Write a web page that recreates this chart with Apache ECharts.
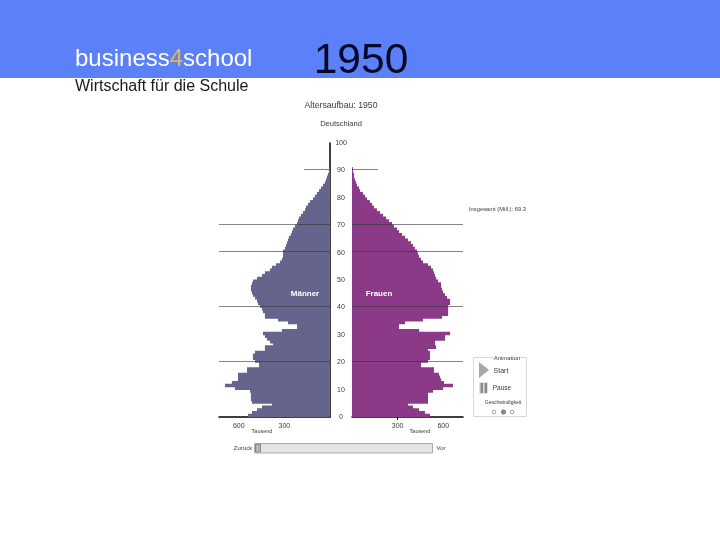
<!DOCTYPE html>
<html><head><meta charset="utf-8">
<style>html,body{margin:0;padding:0;background:#fff}#c{width:720px;height:540px}</style>
<script src="https://cdn.jsdelivr.net/npm/echarts@6/dist/echarts.min.js"></script>
</head><body><div id="c"></div>
<script>
// Bar lengths, ages 0..90, in pixel-derived thousands
var pxPerThousand = 0.152;
var ages = []; for (var a = 0; a < 100; a++) ages.push(String(a));
var menRaw = [82,78,73,68,58,78,79,79,79,80,95,105,98,92,92,92,83,83,71,71,75,77,77,75,65,65,57,60,63,65,67,48,33,33,42,52,65,65,67,68,70,72,73,75,77,78,79,79,78,77,73,68,65,60,58,54,50,48,47,47,47,45,44,43,42,41,39,38,37,35,33,32,31,29,27,25,24,22,20,17,15,13,11,9,7,5,4,3,2,1,1];
var womenRaw = [78,73,67,61,56,76,76,76,76,81,91,101,92,89,88,87,82,82,69,69,76,78,78,78,76,84,83,83,93,93,98,67,47,47,53,71,90,96,96,96,96,98,98,95,93,91,90,89,89,86,84,83,82,81,79,76,71,69,67,66,65,63,61,59,56,53,50,47,45,42,40,37,34,31,28,25,22,20,18,15,13,11,8,7,5,4,3,2,2,1,1];
var men = menRaw.map(function(v){return Math.round(v/pxPerThousand);});
var women = womenRaw.map(function(v){return Math.round(v/pxPerThousand);});
var ageTicks = [0,10,20,30,40,50,60,70,80,90,100];
var fullLines = [70,60,40,20];
var shortLine = 90;
var shortLineEnd = 170;
var axisMax = 730;
var xTicks = [300,600];

var chart = echarts.init(document.getElementById('c'), null, {renderer:'canvas'});
var F = 'Liberation Sans, Arial, sans-serif';
var TXT = '#3a3a3a';
var lineStyle = {color:'rgba(50,50,50,0.6)', width:1, type:'solid'};
function marks(){
  var d = fullLines.map(function(y){return {yAxis:String(y)};});
  d.push([{coord:[0,String(shortLine)]},{coord:[shortLineEnd,String(shortLine)]}]);
  return {silent:true, symbol:'none', label:{show:false}, lineStyle:lineStyle, data:d, animation:false};
}
function xAxis(idx, inverse, tick){
  return {type:'value', gridIndex:idx, min:0, max:axisMax, inverse:inverse, splitLine:{show:false},
    axisLine:{show:true,onZero:false,lineStyle:{color:'#000',width:1.5}},
    axisTick:{show:tick,length:3,customValues:[xTicks[0]],lineStyle:{color:'#000'}},
    axisLabel:{fontFamily:F,fontSize:7,color:TXT,margin:6,customValues:xTicks}};
}
function txt(x,y,s,size,o){
  return {type:'text',x:x,y:y,z:(o&&o.z)||10,style:Object.assign({text:s,fontFamily:F,fontSize:size,fill:TXT,align:'center',verticalAlign:'middle'},o&&o.style||{})};
}
function rect(x,y,w,h,fill,stroke){
  return {type:'rect',z:5,shape:{x:x,y:y,width:w,height:h},style:{fill:fill,stroke:stroke||null,lineWidth:stroke?1:0}};
}
function circle(x,y,r,fill){
  return {type:'circle',z:5,shape:{cx:x,cy:y,r:r},style:{fill:fill,stroke:'#777',lineWidth:0.7}};
}
chart.setOption({
  animation:false,
  backgroundColor:'#fff',
  grid:[{left:219,width:111,top:143,height:274,containLabel:false},{left:352,width:111,top:143,height:274,containLabel:false}],
  xAxis:[xAxis(0,true,false),xAxis(1,false,true)],
  yAxis:[
    {type:'category',gridIndex:0,data:ages,boundaryGap:true,axisLine:{show:false},axisTick:{show:false},axisLabel:{show:false}},
    {type:'category',gridIndex:1,data:ages,boundaryGap:true,axisLine:{show:false},axisTick:{show:false},axisLabel:{show:false}},
    {type:'value',gridIndex:0,position:'right',min:0,max:100,interval:10,splitLine:{show:false},
      axisLine:{show:true,onZero:false,lineStyle:{color:'#000',width:1.5}},axisTick:{show:false},
      axisLabel:{fontFamily:F,fontSize:7,color:TXT,margin:11,align:'center',
        formatter:function(v){return ageTicks.indexOf(v)>=0?String(v):'';}}}
  ],
  series:[
    {name:'Männer',type:'bar',xAxisIndex:0,yAxisIndex:0,data:men,barWidth:3.6,barCategoryGap:0,
      itemStyle:{color:'#65648c'},markLine:marks()},
    {name:'Frauen',type:'bar',xAxisIndex:1,yAxisIndex:1,data:women,barWidth:3.6,barCategoryGap:0,
      itemStyle:{color:'#8b3a87'},markLine:marks()}
  ],
  graphic:[
    {type:'rect',z:-1,silent:true,shape:{x:0,y:0,width:720,height:78},style:{fill:'#5b80f7'}},
    {type:'text',x:75,y:59,z:10,style:{rich:{a:{fontFamily:F,fontSize:24,fill:'#fff'},b:{fontFamily:F,fontSize:24,fill:'#e8b84a'}},text:'{a|business}{b|4}{a|school}',verticalAlign:'middle',align:'left'}},
    txt(75,87,'Wirtschaft für die Schule',16,{style:{fill:'#1a1a1a',align:'left'}}),
    txt(361,61,'1950',42.5,{style:{fill:'#000828'}}),
    txt(341,106,'Altersaufbau: 1950',8.7),
    txt(341,123.5,'Deutschland',7.5),
    txt(497.5,209,'Insgesamt (Mill.): 69.3',5.8),
    txt(305,293.5,'Männer',8,{z:20,style:{fill:'#fff',fontWeight:'bold'}}),
    txt(379,293.5,'Frauen',8,{z:20,style:{fill:'#fff',fontWeight:'bold'}}),
    txt(262,431.5,'Tausend',5.5),
    txt(420,431.5,'Tausend',5.5),
    txt(243,448,'Zurück',6),
    txt(441,448,'Vor',6),
    rect(254.5,443.5,178,9.5,'#e4e4e4','#aaa'),
    rect(255.5,444.5,5,7.5,'#b5b5b5','#888'),
    rect(473.5,357.5,53,59,'#fff','#d8d8d8'),
    rect(494,354,26,7,'#fff'),
    txt(507,358,'Animation',6),
    {type:'polygon',z:6,shape:{points:[[479,362],[479,378],[489,370]]},style:{fill:'#a8a8a8'}},
    txt(501,371,'Start',7),
    rect(479,382,9,12,'#e2e2e2'),
    rect(480.5,383,2.5,10,'#8a8a8a'),
    rect(484.5,383,2.5,10,'#8a8a8a'),
    txt(502,388,'Pause',6.5),
    txt(503,403,'Geschwindigkeit',5),
    circle(494,412,1.8,'#fff'),
    circle(503.5,412,2.2,'#888'),
    circle(512,412,1.8,'#fff')
  ]
});
</script></body></html>
